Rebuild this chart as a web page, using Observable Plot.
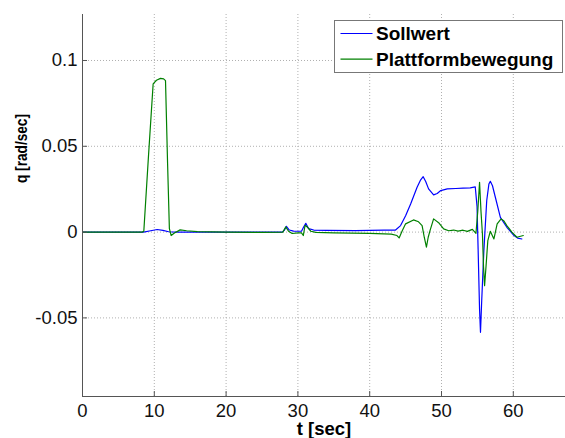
<!DOCTYPE html>
<html><head><meta charset="utf-8">
<script src="https://cdn.jsdelivr.net/npm/d3@7"></script>
<script src="https://cdn.jsdelivr.net/npm/@observablehq/plot@0.6"></script>
<style>
html,body{margin:0;padding:0;background:#fff;}
#chart{position:relative;width:565px;height:438px;}
#chart svg{display:block;}
</style></head><body><div id="chart"></div>
<script>
// ---- data ----
const seriesNames = ["Sollwert", "Plattformbewegung"];
const seriesColors = ["#0000ff", "#008000"];

const sollT = [0, 8.5, 9.5, 10.4, 11.2, 12.0, 13, 20, 27.8, 28.1, 28.4, 28.8, 29.4, 30.5, 30.8, 31.1, 31.5, 32.2, 34, 38, 42, 43.6, 44.3, 45.0, 45.7, 46.6, 47.1, 47.45, 47.8, 48.2, 48.9, 49.4, 49.9, 50.8, 52, 53, 54.0, 54.7, 54.95, 55.1, 55.3, 55.43, 55.6, 55.9, 56.3, 56.6, 56.8, 57.1, 57.5, 58.2, 59.1, 60.1, 60.6, 61.2];
const sollQ = [0, 0, 0.0008, 0.0015, 0.0010, 0.0002, 0, 0, 0, 0.0010, 0.0034, 0.0012, 0.0006, 0.0005, 0.0030, 0.0051, 0.0020, 0.0012, 0.0010, 0.0009, 0.0011, 0.0012, 0.0038, 0.0095, 0.0164, 0.0261, 0.0305, 0.0323, 0.0295, 0.0252, 0.0217, 0.0225, 0.0242, 0.0252, 0.0254, 0.0256, 0.0258, 0.0264, 0.0150, -0.0100, -0.0450, -0.0584, -0.0400, -0.0108, 0.0184, 0.0280, 0.0296, 0.0270, 0.0203, 0.0086, 0.0028, -0.0020, -0.0035, -0.0040];

const plattT = [0, 8.3, 8.54, 9.2, 9.84, 10.3, 10.86, 11.3, 11.56, 11.85, 12.1, 12.35, 12.8, 13.6, 14.5, 16, 20, 25, 27.9, 28.3, 28.7, 29.2, 30.0, 30.5, 30.75, 31.0, 31.3, 31.8, 32.5, 35, 40, 43, 43.8, 44.1, 44.5, 45.0, 46.1, 46.8, 47.3, 47.6, 47.9, 48.15, 48.4, 48.9, 49.6, 50.3, 51, 51.7, 52.3, 53, 53.6, 54.3, 54.8, 55.05, 55.3, 55.5, 55.7, 55.85, 56.0, 56.2, 56.45, 56.8, 57.3, 57.75, 58.3, 58.7, 59.1, 59.8, 60.5, 61.4];
const plattQ = [0, 0, 0.0005, 0.045, 0.0864, 0.0885, 0.0896, 0.0893, 0.0883, 0.040, 0.002, -0.0020, -0.0005, 0.0013, 0.0008, 0.0003, 0, -0.0002, 0, 0.0030, 0.0005, -0.0008, -0.0004, -0.0005, -0.0020, 0.0040, 0.0030, 0.0005, -0.0002, -0.0005, -0.0008, -0.0012, -0.0020, -0.0034, 0.0005, 0.0048, 0.0071, 0.0060, 0.0038, -0.0030, -0.0088, -0.0030, 0.0009, 0.0077, 0.0055, 0.0019, 0.0008, 0.0012, 0.0006, 0.0011, 0.0004, 0.0016, -0.0007, 0.012, 0.0290, 0.012, -0.0010, -0.020, -0.0312, -0.020, -0.0050, 0.0005, -0.0040, 0.0048, 0.0077, 0.0065, 0.0038, 0.0000, -0.0030, -0.0020];

const xTicks = [0, 10, 20, 30, 40, 50, 60];
const xTickLabels = ["0", "10", "20", "30", "40", "50", "60"];
const yTicks = [-0.05, 0, 0.05, 0.1];
const yTickLabels = ["-0.05", "0", "0.05", "0.1"];
const xLabel = "t [sec]";
const yLabel = "q [rad/sec]";

// ---- layout ----
const W = 565, H = 438, mL = 82, mT = 14, mR = 0, mB = 42;
const xDom = [0, 67.27], yDom = [-0.0958, 0.1268];
const tickPx = 5;
const xk = (xDom[1] - xDom[0]) / (W - mL - mR);
const yk = (yDom[1] - yDom[0]) / (H - mT - mB);
const font = "'Liberation Sans', Arial, Helvetica, sans-serif";
const axisColor = "#555";
const gridColor = "#b0b0b0";

const data = [
  ...sollT.map((t, i) => ({t, q: sollQ[i], s: seriesNames[0]})),
  ...plattT.map((t, i) => ({t, q: plattQ[i], s: seriesNames[1]}))
];
const xt = xTicks.map((v, i) => ({v, label: xTickLabels[i]}));
const yt = yTicks.map((v, i) => ({v, label: yTickLabels[i]}));

const plot = Plot.plot({
  width: W, height: H,
  marginLeft: mL, marginTop: mT, marginRight: mR, marginBottom: mB,
  style: {fontFamily: font, background: "#fff", overflow: "visible"},
  x: {domain: xDom, axis: null},
  y: {domain: yDom, axis: null},
  color: {domain: seriesNames, range: seriesColors},
  marks: [
    Plot.ruleX(xTicks.filter(d => d > xDom[0]), {x: d => d, stroke: gridColor, strokeDasharray: "1,2", strokeWidth: 1}),
    Plot.ruleY(yTicks, {y: d => d, stroke: gridColor, strokeDasharray: "1,2", strokeWidth: 1}),
    Plot.line(data, {x: "t", y: "q", z: "s", stroke: "s", strokeWidth: 1.2}),
    Plot.ruleX([xDom[0]], {stroke: axisColor, strokeWidth: 1}),
    Plot.ruleY([yDom[0]], {stroke: axisColor, strokeWidth: 1}),
    Plot.ruleX(xTicks, {x: d => d, y1: yDom[0], y2: yDom[0] + tickPx * yk, stroke: axisColor}),
    Plot.ruleY(yTicks, {y: d => d, x1: xDom[0], x2: xDom[0] + tickPx * xk, stroke: axisColor}),
    Plot.text(xt, {x: "v", y: () => yDom[0], text: "label", dy: 15, fontSize: 18.5, fill: "#111", lineAnchor: "middle"}),
    Plot.text(yt, {x: () => xDom[0], y: "v", text: "label", dx: -5, textAnchor: "end", fontSize: 18.5, fill: "#111", lineAnchor: "middle"}),
    Plot.text([xLabel], {frameAnchor: "bottom", dy: 33, fontSize: 18.5, fontWeight: "bold", fill: "#000", lineAnchor: "middle"}),
    Plot.text([yLabel], {frameAnchor: "left", rotate: -90, dx: -61, dy: -22.5, fontSize: 16.5, fontWeight: "bold", fill: "#000", lineAnchor: "middle", className: "ylab"})
  ]
});
document.getElementById("chart").appendChild(plot);
// the reference's y title is drawn narrow: fit it to its measured length
d3.select(plot).selectAll(".ylab text")
  .attr("textLength", 69).attr("lengthAdjust", "spacingAndGlyphs");

// ---- legend overlay ----
const lg = d3.select("#chart").append("svg")
  .attr("width", W).attr("height", H)
  .style("position", "absolute").style("left", "0px").style("top", "0px")
  .style("pointer-events", "none");
lg.append("rect").attr("x", 334.5).attr("y", 20.5).attr("width", 228).attr("height", 52)
  .attr("fill", "#fff").attr("stroke", "#777").attr("stroke-width", 1);
seriesNames.forEach((n, i) => {
  const y = 33.5 + i * 25.7;
  lg.append("line").attr("x1", 340.5).attr("x2", 372.5).attr("y1", y).attr("y2", y)
    .attr("stroke", seriesColors[i]).attr("stroke-width", 1.2);
  lg.append("text").attr("x", 376).attr("y", y + 6.5).text(n)
    .attr("font-family", font).attr("font-size", 19).attr("font-weight", "bold").attr("fill", "#000");
});
</script>
</body></html>
